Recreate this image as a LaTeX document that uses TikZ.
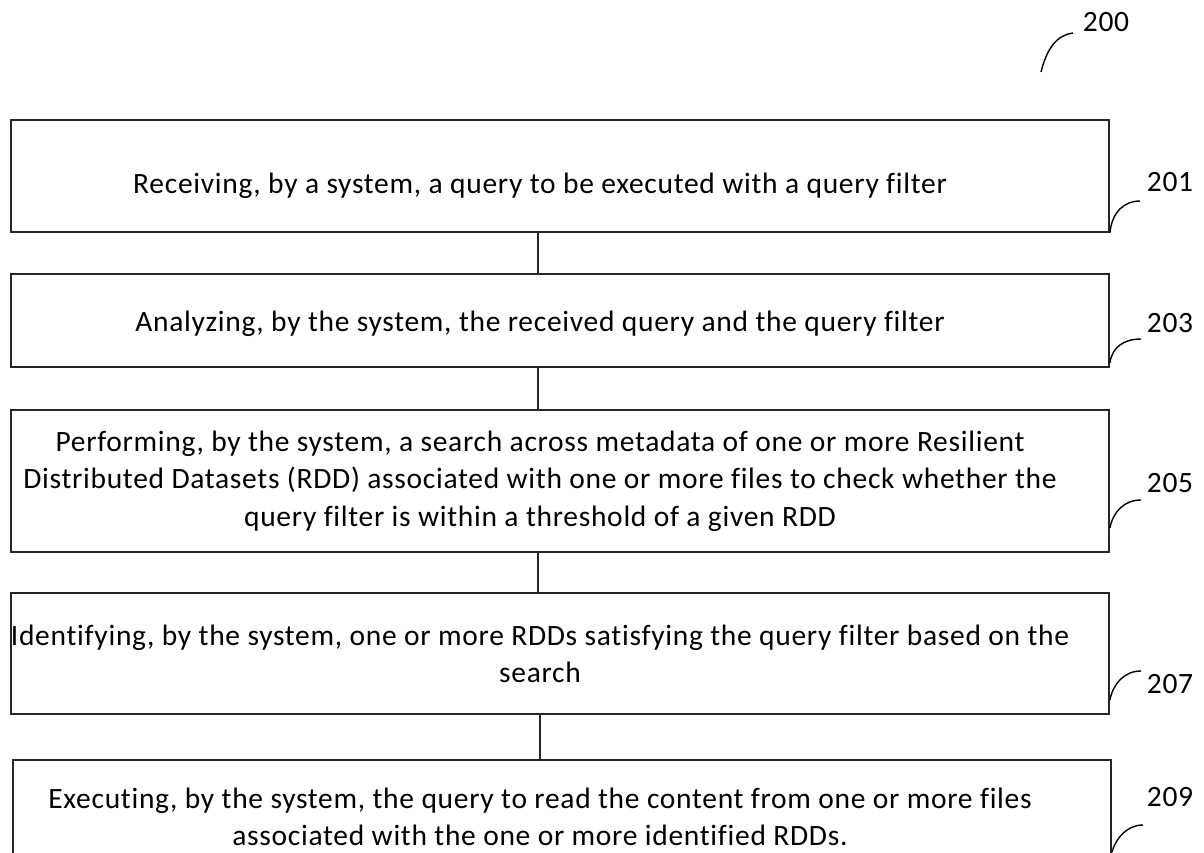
\documentclass[tikz,border=0pt]{standalone}
\usepackage{fontspec}
\setmainfont{Carlito}
\newfontfamily\stepfont[LetterSpace=2.4,Ligatures=NoCommon]{Carlito}
\begin{document}
\begin{tikzpicture}[x=1pt,y=-1pt,
  stepbox/.style={draw=black!85, line width=1.8pt, rectangle, inner sep=0pt},
  steptext/.style={align=center, inner sep=0pt, font=\stepfont\fontsize{29.5}{37.5}\selectfont},
  reftext/.style={inner sep=0pt, font=\stepfont\fontsize{29.5}{32}\selectfont},
  link/.style={draw=black!85, line width=1.4pt},
  leader/.style={draw=black, line width=1.4pt}]
\clip (0,0) rectangle (1204,852);
\fill[white] (0,0) rectangle (1204,852);

% figure number
\node[reftext] (r200) at (1106,22) {200};
\coordinate (c200) at (1041,72);
\coordinate (e200) at (1073,33);
\draw[leader] (c200) .. controls (1047,48) and (1057,35) .. (e200);

% step boxes
\node[stepbox, minimum width=1098pt, minimum height=112pt] (b201) at (560,176) {};
\node[stepbox, minimum width=1098pt, minimum height=93pt] (b203) at (560,320.5) {};
\node[stepbox, minimum width=1098pt, minimum height=142pt] (b205) at (560,481) {};
\node[stepbox, minimum width=1098pt, minimum height=121pt] (b207) at (560,653.5) {};
\node[stepbox, minimum width=1098pt, minimum height=130pt] (b209) at (562,825) {};

% step texts
\node[steptext] (t201) at (540,186) {Receiving, by a system, a query to be executed with a query filter};
\node[steptext] (t203) at (540,324) {Analyzing, by the system, the received query and the query filter};
\node[steptext] (t205) at (540,481) {Performing, by the system, a search across metadata of one or more Resilient\\Distributed Datasets (RDD) associated with one or more files to check whether the\\query filter is within a threshold of a given RDD};
\node[steptext] (t207) at (540,654) {Identifying, by the system, one or more RDDs satisfying the query filter based on the\\search};
\node[steptext] (t209) at (540,817) {Executing, by the system, the query to read the content from one or more files\\associated with the one or more identified RDDs.};

% connectors between steps
\draw[link] (b201.south -| 538,0) -- (b203.north -| 538,0);
\draw[link] (b203.south -| 538,0) -- (b205.north -| 538,0);
\draw[link] (b205.south -| 538,0) -- (b207.north -| 538,0);
\draw[link] (b207.south -| 540,0) -- (b209.north -| 540,0);

% reference numerals
\node[reftext] (r201) at (1170,182) {201};
\node[reftext] (r203) at (1170,323) {203};
\node[reftext] (r205) at (1170,483) {205};
\node[reftext] (r207) at (1170,684) {207};
\node[reftext] (r209) at (1170,797) {209};

\draw[leader] (b201.south east) .. controls (1112,212) and (1124,201) .. (1140,201);
\draw[leader] (b203.east |- 0,363) .. controls (1112,347) and (1124,339) .. (1141,339);
\draw[leader] (b205.east |- 0,528) .. controls (1113,512) and (1124,500) .. (1141,500);
\draw[leader] (b207.east |- 0,700) .. controls (1113,684) and (1124,671) .. (1141,671);
\draw[leader] (b209.east |- 0,852) .. controls (1116,838) and (1127,825) .. (1143,825);
\end{tikzpicture}
\end{document}
